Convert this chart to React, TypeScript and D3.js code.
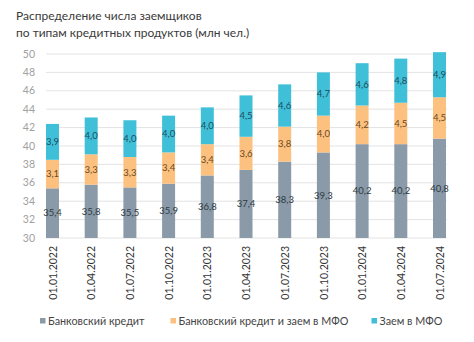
import React from "react";
import * as d3 from "d3";

const categories = ["01.01.2022","01.04.2022","01.07.2022","01.10.2022","01.01.2023","01.04.2023","01.07.2023","01.10.2023","01.01.2024","01.04.2024","01.07.2024"];
const bank = [35.4, 35.8, 35.5, 35.9, 36.8, 37.4, 38.3, 39.3, 40.2, 40.2, 40.8];
const bankMfo = [3.1, 3.3, 3.3, 3.4, 3.4, 3.6, 3.8, 4.0, 4.2, 4.5, 4.5];
const mfo = [3.9, 4.0, 4.0, 4.0, 4.0, 4.5, 4.6, 4.7, 4.6, 4.8, 4.9];
const seriesNames = ["Банковский кредит", "Банковский кредит и заем в МФО", "Заем в МФО"];
const yTicks = [30, 32, 34, 36, 38, 40, 42, 44, 46, 48, 50];
const titleLines = ["Распределение числа заемщиков", "по типам кредитных продуктов (млн чел.)"];

const colors = ["#8A9AA8", "#FDC17F", "#40C0D8"];
const labelColors = ["#2E3A44", "#6A4A25", "#1B4E5E"];
const FONT = "Lato, 'Open Sans', sans-serif";

export default function App() {
  const W = 474, H = 342;
  const y = d3.scaleLinear().domain([30, 50]).range([238, 54]);
  const x = d3.scalePoint<string>().domain(categories).range([52.5, 439.5]);
  const bw = 13;
  const fmt = (v: number) => v.toFixed(1).replace(".", ",");
  const table = categories.map((c, i) => ({ c, bank: bank[i], bankMfo: bankMfo[i], mfo: mfo[i] }));
  const stack = d3.stack<any>().keys(["bank", "bankMfo", "mfo"])(table);

  const legendX = [40, 170.5, 371.5];

  return (
    <svg width={W} height={H} style={{ position: "absolute", left: 0, top: 0, background: "#fff" }} fontFamily={FONT}>
      {titleLines.map((t, i) => (
        <text key={i} x={16} y={20 + i * 17} fontSize={12} fill="#3a3a3a">{t}</text>
      ))}
      {yTicks.map((t) => (
        <g key={t}>
          <line x1={46} x2={447} y1={y(t)} y2={y(t)} stroke="#e3e3e3" strokeWidth={1} />
          <text x={35} y={y(t)} dy="0.35em" textAnchor="end" fontSize={10.5} fill="#a0a0a0">{t}</text>
        </g>
      ))}
      {stack.map((s, si) => (
        <g key={si}>
          {s.map((d, i) => {
            const lo = Math.max(d[0], 30);
            const hi = d[1];
            const cx = x(categories[i])!;
            return (
              <g key={i}>
                <rect x={cx - bw / 2} y={y(hi)} width={bw} height={y(lo) - y(hi)} fill={colors[si]} />
                <text x={cx} y={y((lo + hi) / 2)} dy="0.35em" textAnchor="middle" fontSize={9.5} fill={labelColors[si]}>
                  {fmt(d[1] - d[0])}
                </text>
              </g>
            );
          })}
        </g>
      ))}
      {categories.map((c) => (
        <text key={c} transform={`translate(${x(c)! + 0.5},246) rotate(-90)`} textAnchor="end" dy="0.35em" fontSize={10.5} fill="#333">{c}</text>
      ))}
      {seriesNames.map((n, i) => (
        <g key={n}>
          <rect x={legendX[i]} y={318} width={5.5} height={5.5} fill={colors[i]} />
          <text x={legendX[i] + 8} y={321} dy="0.35em" fontSize={10.8} fill="#444">{n}</text>
        </g>
      ))}
    </svg>
  );
}
